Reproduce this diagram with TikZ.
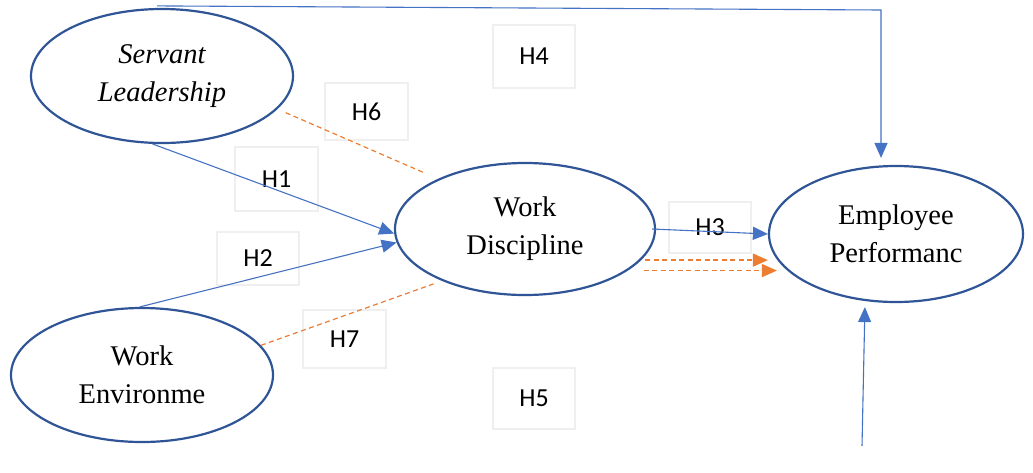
\documentclass[tikz,border=0pt]{standalone}
\usepackage{fontspec}
\setmainfont{Liberation Serif}
\newfontfamily\labfont{Carlito}
\usetikzlibrary{arrows.meta,calc,shapes.geometric}
\definecolor{elblue}{HTML}{2F5597}
\definecolor{arblue}{HTML}{4472C4}
\definecolor{orng}{HTML}{ED7D31}
\definecolor{boxgray}{HTML}{EFEFEF}
\begin{document}
\begin{tikzpicture}[x=1pt,y=-1pt,
  latent/.style={ellipse,draw=elblue,fill=white,line width=2.2pt,inner sep=0pt,align=center,font=\fontsize{28.5}{38}\selectfont},
  hbox/.style={draw=boxgray,line width=1.8pt,inner sep=0pt,font=\labfont\fontsize{26}{30}\selectfont},
  barrow/.style={draw=arblue,line width=1.1pt,-{Triangle[length=15pt,width=13pt]}},
  oarrow/.style={draw=orng,line width=1.3pt,dash pattern=on 5pt off 3.5pt,-{Triangle[length=15pt,width=13pt]}},
  oline/.style={draw=orng,line width=1.2pt,dash pattern=on 5pt off 3.5pt}]
\useasboundingbox (0,0) rectangle (1033,472);

% hypothesis label boxes
\node[hbox,minimum width=82pt,minimum height=63pt] (h4) at (534,56.5) {H4};
\node[hbox,minimum width=83pt,minimum height=57pt] (h6) at (366.5,111.5) {H6};
\node[hbox,minimum width=83pt,minimum height=64pt] (h1) at (276.5,179) {H1};
\node[hbox,minimum width=82pt,minimum height=53pt] (h2) at (258,258.5) {H2};
\node[hbox,minimum width=83pt,minimum height=58pt] (h7) at (344.5,339) {H7};
\node[hbox,minimum width=82pt,minimum height=61pt] (h5) at (534,398.5) {H5};
\node[hbox,minimum width=82pt,minimum height=51pt] (h3) at (710,227.5) {H3};

% latent variables
\node[latent,minimum width=262pt,minimum height=134pt] (sl) at (162,76) {\itshape Servant\\\itshape Leadership};
\node[latent,minimum width=260pt,minimum height=132pt] (wd) at (525,229) {Work\\Discipline};
\node[latent,minimum width=254pt,minimum height=136pt] (ep) at (896,234) {Employee\\Performanc};
\node[latent,minimum width=262pt,minimum height=134pt] (we) at (142,375) {Work\\Environme};

% free ends
\coordinate (tc) at (881,10);
\coordinate (bc) at (862,446);

% connectors
\draw[barrow,shorten >=7pt] ([yshift=2pt,xshift=-5pt]sl.north) -- (tc) -- (tc |- ep.north);
\draw[barrow,shorten >=4pt] (bc) -- ($(bc |- ep.south)+(3,0)$);
\draw[barrow] (sl.-98) -- (wd.182);
\draw[barrow] (we.92) -- (wd.186);
\draw[barrow] ([xshift=-4pt]wd.east) -- (ep.west);
\draw[oarrow] ([xshift=4pt]wd.-15) -- (wd.-15 -| ep.west);
\draw[oarrow] ([xshift=16pt]wd.-22) -- ($(wd.-22 -| ep.west)+(9,0)$);
\draw[oline,shorten <=9pt,shorten >=14pt] (sl.-16) -- (wd.150);
\draw[oline,shorten >=9pt] (we.14) -- (wd.212);
\end{tikzpicture}
\end{document}
